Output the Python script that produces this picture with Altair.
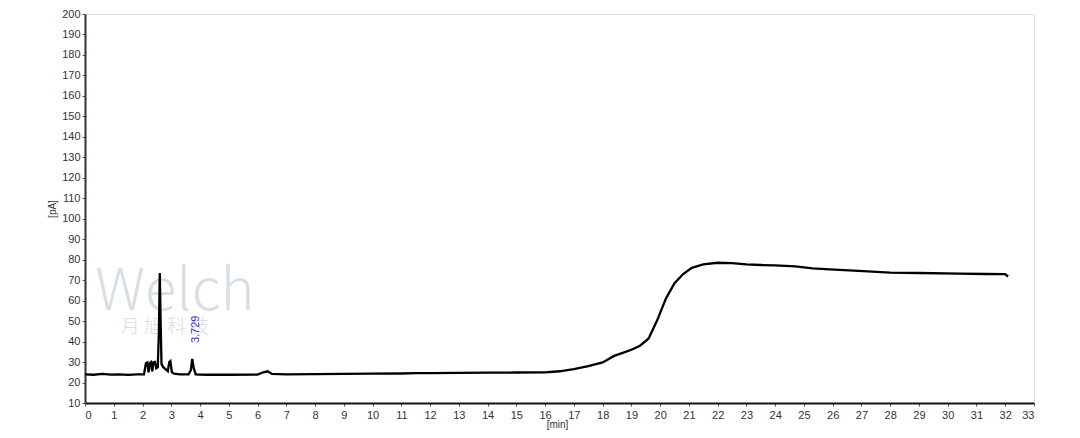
import altair as alt
import pandas as pd

# chromatogram trace (time in min, signal in pA)
times = [0.0, 0.3, 0.6, 0.9, 1.2, 1.5, 1.8, 2.05, 2.12, 2.17, 2.21, 2.26, 2.30, 2.34,
         2.38, 2.43, 2.48, 2.53, 2.57, 2.60, 2.63, 2.66, 2.72, 2.80, 2.88, 2.93, 2.97,
         3.02, 3.10, 3.3, 3.6, 3.68, 3.73, 3.78, 3.85, 4.2, 5.0, 6.0, 6.2, 6.35, 6.5,
         7.0, 8.0, 9.0, 10.0, 11.0, 11.5, 12.0, 13.0, 14.0, 15.0, 16.0, 16.5, 17.0,
         17.5, 18.0, 18.4, 18.7, 19.0, 19.3, 19.6, 19.9, 20.2, 20.5, 20.8, 21.1, 21.5,
         22.0, 22.5, 23.0, 23.5, 24.0, 24.7, 25.3, 25.9, 26.9, 28.0, 29.0, 30.4, 31.3,
         32.0, 32.1]
signal = [24.0, 23.8, 24.2, 23.9, 24.0, 23.7, 24.0, 24.0, 29.5, 29.8, 25.0, 29.5, 30.0, 25.5,
          29.8, 30.0, 27.0, 27.5, 45.0, 73.5, 50.0, 29.0, 27.5, 26.5, 25.5, 30.0, 30.5,
          25.0, 24.3, 24.0, 24.0, 26.0, 31.5, 27.0, 24.0, 23.8, 23.8, 23.9, 25.0, 25.5, 24.2,
          24.0, 24.1, 24.2, 24.3, 24.4, 24.6, 24.6, 24.7, 24.8, 24.9, 25.0, 25.5, 26.5,
          28.0, 29.8, 33.0, 34.5, 36.0, 38.0, 41.5, 50.5, 61.0, 68.5, 73.0, 76.0, 77.7,
          78.5, 78.3, 77.7, 77.4, 77.2, 76.7, 75.8, 75.3, 74.5, 73.7, 73.5, 73.2, 73.0,
          72.9, 71.8]

peak_label = ["3.729"]
peak_x = [3.86]
peak_y = [46]

wm_text = ["Welch", "月  旭  科  技"]
wm_x = [3.13, 2.78]
wm_y = [63.5, 47.3]
wm_size = [58, 19]

x_ticks = list(range(0, 34))
y_ticks = list(range(10, 201, 10))

trace = pd.DataFrame({"t": times, "s": signal})
labels = pd.DataFrame({"label": peak_label, "t": peak_x, "s": peak_y})
wm = pd.DataFrame({"text": wm_text, "t": wm_x, "s": wm_y, "size": wm_size})

xscale = alt.Scale(domain=[0, 33], nice=False, zero=False)
yscale = alt.Scale(domain=[10, 200], nice=False, zero=False)

PLOT_H = 389

xaxis = alt.Axis(values=x_ticks, title="[min]", grid=False, labelOverlap=False,
                 labelFont="Liberation Sans", labelFontSize=11, labelColor="#333",
                 titleFont="Liberation Sans", titleFontSize=10, titleFontWeight="normal",
                 titleColor="#333", titleX=472, titleY=21, titleBaseline="middle",
                 tickSize=3, tickColor="#555", domainColor="#111", domainWidth=2,
                 labelPadding=3)
yaxis = alt.Axis(values=y_ticks, title="[pA]", grid=False, labelOverlap=False,
                 labelFont="Liberation Sans", labelFontSize=11, labelColor="#333",
                 titleFont="Liberation Sans", titleFontSize=10, titleFontWeight="normal",
                 titleColor="#333", titleX=-33, titleY=PLOT_H / 2, titleAngle=270,
                 titleBaseline="middle", titleAlign="center",
                 tickSize=3, tickColor="#555", domainColor="#333", domainWidth=2,
                 labelPadding=2)

X = alt.X("t:Q", scale=xscale, axis=xaxis)
Y = alt.Y("s:Q", scale=yscale, axis=yaxis)

watermark = alt.Chart(wm).mark_text(font="Noto Sans CJK SC", color="#c9d4de",
                                    opacity=0.75, fontWeight=300).encode(
    x=X, y=Y, text="text:N", size=alt.Size("size:Q", scale=None, legend=None))

line = alt.Chart(trace).mark_line(color="#000000", strokeWidth=2.3).encode(x=X, y=Y)

ann = alt.Chart(labels).mark_text(angle=270, color="#3333cc", fontSize=11,
                                  font="Liberation Sans").encode(
    x=X, y=Y, text="label:N")

chart = alt.layer(watermark, line, ann).properties(
    width=949, height=PLOT_H,
    autosize=alt.AutoSizeParams(type="none"),
    padding={"left": 77, "top": 6, "right": 38, "bottom": 27},
).configure_view(stroke="#666", strokeWidth=2).configure_axis(
    labelOverlap=False
).configure(background="white")

chart.save("out.html", embed_options={"renderer": "svg", "actions": False})
